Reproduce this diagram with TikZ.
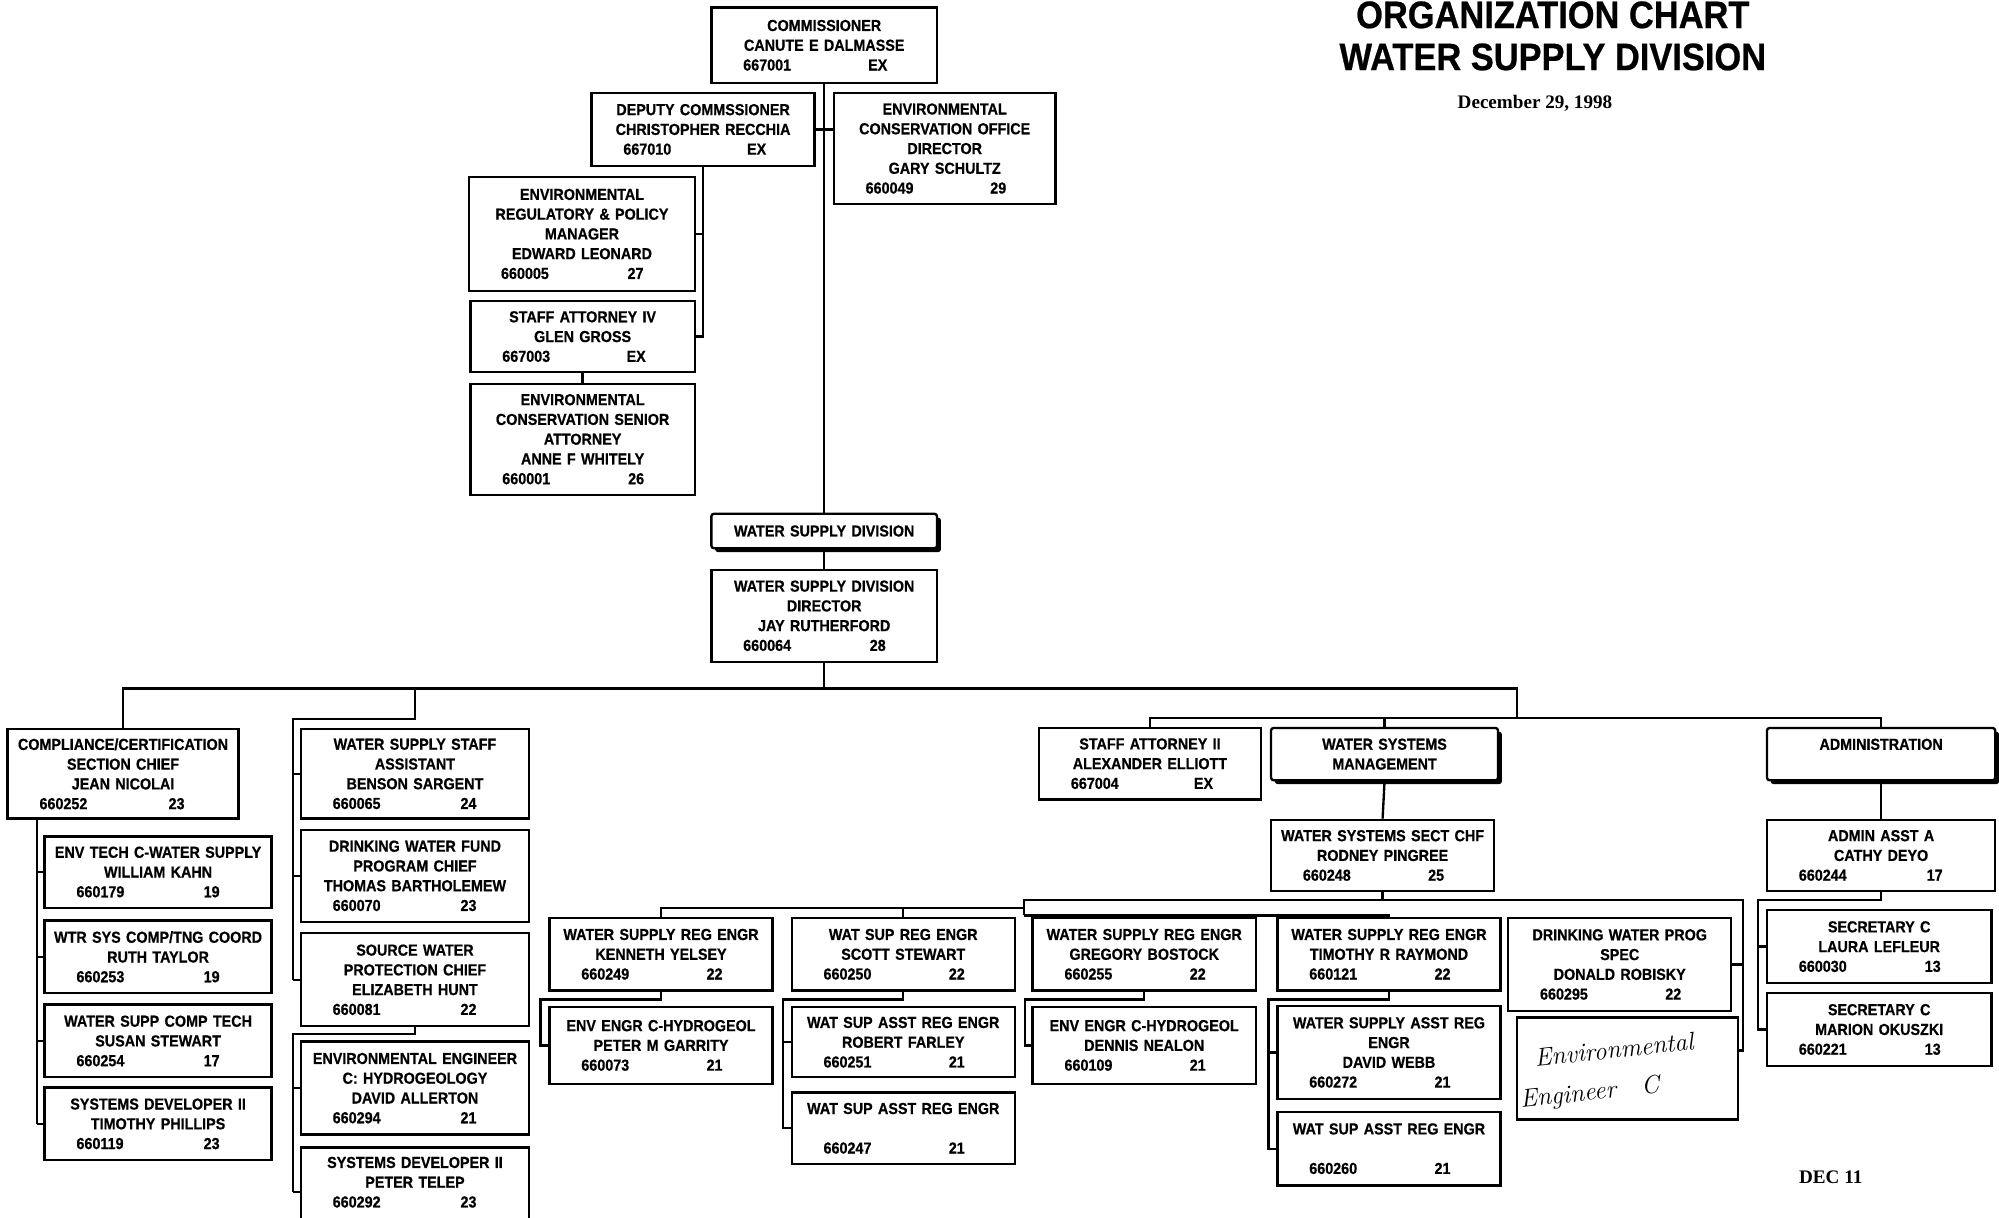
\documentclass[tikz,border=0pt]{standalone}
\usepackage{fontspec}
\newfontfamily\bx[FakeStretch=0.9,FakeBold=0.6]{Liberation Sans}
\newfontfamily\tnr{Liberation Serif}
\usetikzlibrary{shadows}
\newcommand\numln[2]{\leavevmode\hbox to \bw pt{\hskip 15pt #1\hfil\hbox to 0pt{\hss #2\hss}\hskip\dimexpr\bw pt/2-25.2pt\relax}}
\newcommand\orgbox[7][]{%
  \pgfmathsetmacro\bw{(#5-#3)*0.6}%
  \node[obox,#1,minimum width=\bw pt,text width=\bw pt,minimum height={(#6-#4)*0.6pt}] (#2) at ({(#3+#5)/2},{(#4+#6)/2}) {#7};}
\tikzset{
  obox/.style={draw, line width=1.1pt, fill=white, inner xsep=0pt, inner ysep=0pt, align=center,
    font=\bx\bfseries\fontsize{7.5}{9.3}\selectfont},
  shbox/.style={drop shadow={shadow xshift=1.8pt,shadow yshift=-1.8pt,fill=black,opacity=1},rounded corners=1.2pt},
  conn/.style={line width=1.1pt},
  ttl/.style={font=\bx\bfseries\fontsize{18}{20}\selectfont, inner sep=0pt},
  dte/.style={font=\tnr\bfseries\fontsize{9}{11}\selectfont, inner sep=0pt},
  hand/.style={font=\normalfont\itshape\fontsize{12}{14}\selectfont, inner sep=0pt, rotate=6}
}
\begin{document}
\begin{tikzpicture}[x=0.6pt,y=-0.6pt]
\useasboundingbox (0,0) rectangle (1568,955);
\clip (0,0) rectangle (1568,955);
% title
\node[ttl, anchor=base] (t1) at (1218,22) {ORGANIZATION CHART};
\node[ttl, anchor=base] (t2) at (1218,55) {WATER SUPPLY DIVISION};
\node[dte, anchor=base] (t3) at (1204,85) {December 29, 1998};
\node[dte, anchor=base] (t4) at (1436,928) {DEC 11};
% top
\orgbox{comm}{558}{6}{735}{65}{COMMISSIONER\\CANUTE E DALMASSE\\\numln{667001}{EX}}
\orgbox{dep}{464}{73}{639}{130}{DEPUTY COMMSSIONER\\CHRISTOPHER RECCHIA\\\numln{667010}{EX}}
\orgbox{eco}{654}{73}{828}{160}{ENVIRONMENTAL\\CONSERVATION OFFICE\\DIRECTOR\\GARY SCHULTZ\\\numln{660049}{29}}
\orgbox{reg}{368}{139}{545}{228}{ENVIRONMENTAL\\REGULATORY \& POLICY\\MANAGER\\EDWARD LEONARD\\\numln{660005}{27}}
\orgbox{stat}{369}{236}{545}{292}{STAFF ATTORNEY IV\\GLEN GROSS\\\numln{667003}{EX}}
\orgbox{sen}{369}{301}{545}{388}{ENVIRONMENTAL\\CONSERVATION SENIOR\\ATTORNEY\\ANNE F WHITELY\\\numln{660001}{26}}
\orgbox[shbox]{wsd}{558}{403}{735}{430}{WATER SUPPLY DIVISION}
\orgbox{dir}{558}{447}{735}{519}{WATER SUPPLY DIVISION\\DIRECTOR\\JAY RUTHERFORD\\\numln{660064}{28}}
% level 2
\orgbox{comp}{6}{572}{187}{642}{COMPLIANCE/CERTIFICATION\\SECTION CHIEF\\JEAN NICOLAI\\\numln{660252}{23}}
\orgbox{wss}{236}{572}{415}{642}{WATER SUPPLY STAFF\\ASSISTANT\\BENSON SARGENT\\\numln{660065}{24}}
\orgbox{att2}{815}{571}{989}{627}{STAFF ATTORNEY II\\ALEXANDER ELLIOTT\\\numln{667004}{EX}}
\orgbox[shbox]{wsm}{997}{571}{1175}{612}{WATER SYSTEMS\\MANAGEMENT}
\orgbox[shbox]{adm}{1386}{571}{1565}{612}{ADMINISTRATION\\\mbox{}}
% compliance subs
\orgbox{et}{35}{656}{213}{712}{ENV TECH C-WATER SUPPLY\\WILLIAM KAHN\\\numln{660179}{19}}
\orgbox{wt}{35}{722}{213}{779}{WTR SYS COMP/TNG COORD\\RUTH TAYLOR\\\numln{660253}{19}}
\orgbox{ws}{35}{788}{213}{845}{WATER SUPP COMP TECH\\SUSAN STEWART\\\numln{660254}{17}}
\orgbox{sd1}{35}{853}{213}{910}{SYSTEMS DEVELOPER II\\TIMOTHY PHILLIPS\\\numln{660119}{23}}
% staff subs
\orgbox{dwf}{236}{651}{415}{723}{DRINKING WATER FUND\\PROGRAM CHIEF\\THOMAS BARTHOLEMEW\\\numln{660070}{23}}
\orgbox{swp}{236}{732}{415}{805}{SOURCE WATER\\PROTECTION CHIEF\\ELIZABETH HUNT\\\numln{660081}{22}}
\orgbox{eeh}{236}{817}{415}{890}{ENVIRONMENTAL ENGINEER\\C: HYDROGEOLOGY\\DAVID ALLERTON\\\numln{660294}{21}}
\orgbox{sdv2}{236}{900}{415}{970}{SYSTEMS DEVELOPER II\\PETER TELEP\\\numln{660292}{23}\\\mbox{}}
% water systems
\orgbox{wsc}{997}{643}{1172}{699}{WATER SYSTEMS SECT CHF\\RODNEY PINGREE\\\numln{660248}{25}}
\orgbox{ky}{431}{720}{606}{777}{WATER SUPPLY REG ENGR\\KENNETH YELSEY\\\numln{660249}{22}}
\orgbox{ss}{621}{720}{796}{777}{WAT SUP REG ENGR\\SCOTT STEWART\\\numln{660250}{22}}
\orgbox{gb}{810}{720}{985}{777}{WATER SUPPLY REG ENGR\\GREGORY BOSTOCK\\\numln{660255}{22}}
\orgbox{tr}{1002}{720}{1177}{777}{WATER SUPPLY REG ENGR\\TIMOTHY R RAYMOND\\\numln{660121}{22}}
\orgbox{dwp}{1183}{720}{1358}{793}{DRINKING WATER PROG\\SPEC\\DONALD ROBISKY\\\numln{660295}{22}}
\orgbox{pg}{431}{790}{606}{850}{ENV ENGR C-HYDROGEOL\\PETER M GARRITY\\\numln{660073}{21}}
\orgbox{rf}{621}{790}{796}{845}{WAT SUP ASST REG ENGR\\ROBERT FARLEY\\\numln{660251}{21}}
\orgbox{a247}{621}{857}{796}{913}{WAT SUP ASST REG ENGR\\\mbox{}\\\numln{660247}{21}}
\orgbox{dn}{810}{790}{985}{850}{ENV ENGR C-HYDROGEOL\\DENNIS NEALON\\\numln{660109}{21}}
\orgbox{dw}{1002}{789}{1177}{862}{WATER SUPPLY ASST REG\\ENGR\\DAVID WEBB\\\numln{660272}{21}}
\orgbox{a260}{1002}{872}{1177}{930}{WAT SUP ASST REG ENGR\\\mbox{}\\\numln{660260}{21}}
\orgbox{hw}{1190}{798}{1363}{878}{}
\node[hand] (hw1) at (1266,823) {Environmental};
\node[hand] (hw2) at (1247,858) {Engineer\quad C};
% admin
\orgbox{cd}{1386}{643}{1565}{699}{ADMIN ASST A\\CATHY DEYO\\\numln{660244}{17}}
\orgbox{ll}{1386}{714}{1562}{771}{SECRETARY C\\LAURA LEFLEUR\\\numln{660030}{13}}
\orgbox{mo}{1386}{779}{1562}{836}{SECRETARY C\\MARION OKUSZKI\\\numln{660221}{13}}
% reference coordinates
\coordinate (yBus) at (0,540);
\coordinate (yR) at (0,563);
\coordinate (xR) at (1190,0);
\coordinate (yS1) at (0,564);
\coordinate (yS2) at (0,811);
\coordinate (xC) at (29,0);
\coordinate (xS) at (230,0);
\coordinate (yA) at (0,706);
\coordinate (yB) at (0,712);
\coordinate (yC) at (0,718);
\coordinate (xJ) at (803,0);
\coordinate (yR5) at (0,784);
\coordinate (xK) at (424,0);
\coordinate (xSc) at (614,0);
\coordinate (xG) at (804,0);
\coordinate (xT) at (995,0);
\coordinate (xD) at (1367,0);
\coordinate (yH) at (0,824);
\coordinate (xA) at (1379,0);
% connectors top
\draw[conn] (comm.south) -- (wsd.north);
\draw[conn] (dep.east) -- (dep.east -| eco.west);
\draw[conn] (dep.south) |- (stat.east);
\draw[conn] (dep.south |- reg.east) -- (reg.east);
\draw[conn] (stat.south) -- (sen.north);
\draw[conn] (wsd.south) -- (dir.north);
\draw[conn] (dir.south) -- (dir.south |- yBus);
\draw[conn] (comp.north) -- (comp.north |- yBus) -- (xR |- yBus) -- (xR |- yR);
\draw[conn] (att2.north) -- (att2.north |- yR) -- (adm.north |- yR) -- (adm.north);
\draw[conn] (wsm.north) -- (wsm.north |- yR);
% compliance
\draw[conn] (comp.south -| xC) -- (xC |- sd1.west);
\foreach \b in {et,wt,ws,sd1} \draw[conn] (xC |- \b.west) -- (\b.west);
% staff
\draw[conn] (wss.north |- yBus) -- (wss.north |- yS1) -- (xS |- yS1) -- (xS |- swp.west);
\foreach \b in {wss,dwf,swp} \draw[conn] (xS |- \b.west) -- (\b.west);
\draw[conn] (swp.south) -- (swp.south |- yS2) -- (xS |- yS2) -- (xS |- sdv2.west);
\foreach \b in {eeh,sdv2} \draw[conn] (xS |- \b.west) -- (\b.west);
% water systems
\draw[conn] (wsm.south) -- (wsc.north);
\draw[conn] (wsc.south) -- (wsc.south |- yA);
\draw[conn] (xJ |- yC) -- (xJ |- yA) -- (xD |- yA) -- (xD |- yH) -- (hw.east |- yH);
\draw[conn] (xD |- dwp.east) -- (dwp.east);
\draw[conn] (ky.north) -- (ky.north |- yB) -- (xJ |- yB);
\draw[conn] (ss.north) -- (ss.north |- yB);
\draw[conn] (xJ |- yC) -- (tr.north |- yC) -- (tr.north);
\draw[conn] (gb.north |- yC) -- (gb.north);
\draw[conn] (ky.south) -- (ky.south |- yR5) -- (xK |- yR5) -- (xK |- pg.west) -- (pg.west);
\draw[conn] (ss.south) -- (ss.south |- yR5) -- (xSc |- yR5) -- (xSc |- a247.west) -- (a247.west);
\draw[conn] (xSc |- rf.west) -- (rf.west);
\draw[conn] (gb.south) -- (gb.south |- yR5) -- (xG |- yR5) -- (xG |- dn.west) -- (dn.west);
\draw[conn] (tr.south) -- (tr.south |- yR5) -- (xT |- yR5) -- (xT |- a260.west) -- (a260.west);
\draw[conn] (xT |- dw.west) -- (dw.west);
% admin
\draw[conn] (adm.south) -- (cd.north);
\draw[conn] (cd.south) -- (cd.south |- yA) -- (xA |- yA) -- (xA |- mo.west) -- (mo.west);
\draw[conn] (xA |- ll.west) -- (ll.west);
\end{tikzpicture}
\end{document}
